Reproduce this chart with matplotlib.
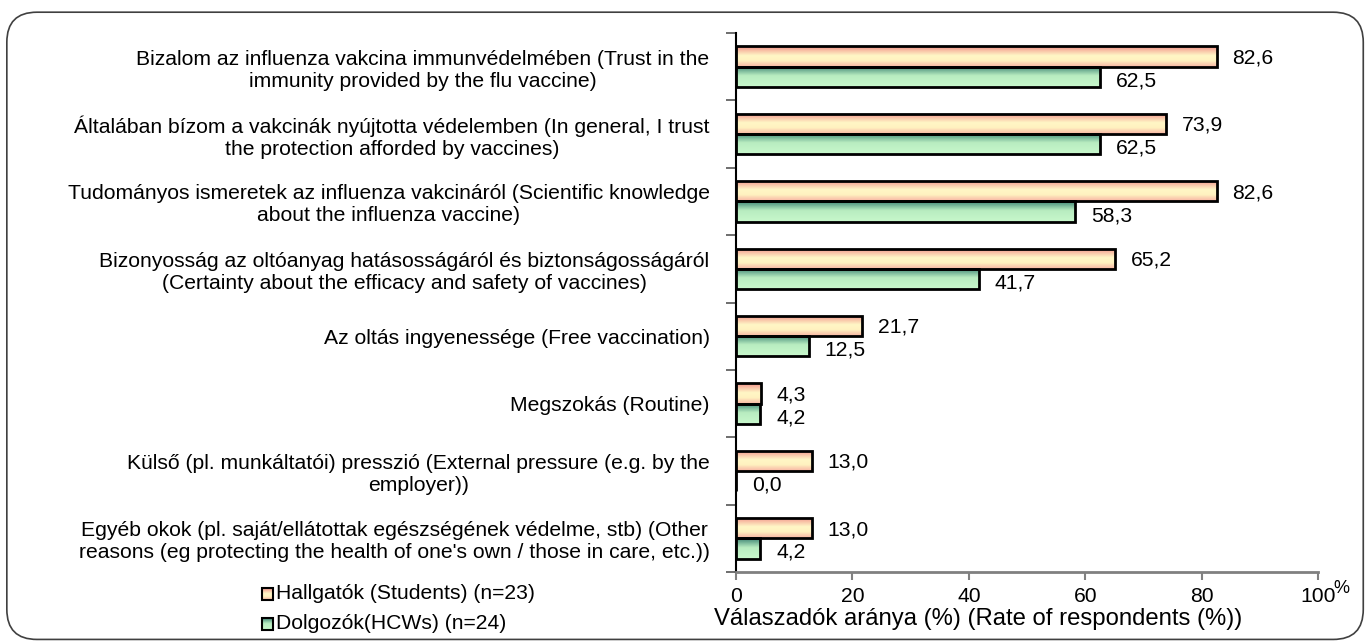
import numpy as np
import matplotlib.pyplot as plt
from matplotlib.colors import LinearSegmentedColormap
from matplotlib.patches import FancyBboxPatch, Rectangle

plt.rcParams['font.family'] = ['Liberation Sans', 'DejaVu Sans']

categories = [
    "Bizalom az influenza vakcina immunvédelmében (Trust in the\nimmunity provided by the flu vaccine)",
    "Általában bízom a vakcinák nyújtotta védelemben (In general, I trust\nthe protection afforded by vaccines)",
    "Tudományos ismeretek az influenza vakcináról (Scientific knowledge\nabout the influenza vaccine)",
    "Bizonyosság az oltóanyag hatásosságáról és biztonságosságáról\n(Certainty about the efficacy and safety of vaccines)",
    "Az oltás ingyenessége (Free vaccination)",
    "Megszokás (Routine)",
    "Külső (pl. munkáltatói) presszió (External pressure (e.g. by the\nemployer))",
    "Egyéb okok (pl. saját/ellátottak egészségének védelme, stb) (Other\nreasons (eg protecting the health of one's own / those in care, etc.))",
]
students = [82.6, 73.9, 82.6, 65.2, 21.7, 4.3, 13.0, 13.0]
hcws = [62.5, 62.5, 58.3, 41.7, 12.5, 4.2, 0.0, 4.2]
legend_labels = ["Hallgatók (Students) (n=23)", "Dolgozók(HCWs) (n=24)"]
xticks = [0, 20, 40, 60, 80, 100]

FS = 15.2

red_cmap = LinearSegmentedColormap.from_list(
    "red", [(0, "#f2928a"), (0.45, "#fff6c6"), (0.7, "#fff2c0"), (1, "#f8b4a4")])
green_cmap = LinearSegmentedColormap.from_list(
    "green", [(0, "#3f8575"), (0.45, "#b8ecc0"), (1, "#c8f8cc")])

fig = plt.figure(figsize=(13.66, 6.42), dpi=100)
ax = fig.add_axes([0.5388, 0.109, 0.4261, 0.8396])

# rounded frame around the whole chart
frame = FancyBboxPatch((0.005, 0.004), 0.993, 0.977, boxstyle="round,pad=0,rounding_size=0.022",
                       transform=fig.transFigure, fill=False, edgecolor="#404040", lw=1.2,
                       mutation_aspect=1366 / 642)
fig.patches.append(frame)

y = np.arange(len(categories))
h = 0.3
grad = np.linspace(0, 1, 64).reshape(-1, 1)


def gradient_bars(bars, cmap):
    for b in bars:
        x0, y0, w, hh = b.get_x(), b.get_y(), b.get_width(), b.get_height()
        if w <= 0:
            continue
        im = ax.imshow(grad, cmap=cmap, aspect="auto", extent=(x0, x0 + w, y0 + hh, y0),
                       origin="upper", zorder=1, interpolation="bilinear")
        im.set_clip_path(b)


b1 = ax.barh(y - h / 2, students, height=h, facecolor="none", edgecolor="black", lw=2, zorder=2)
b2 = ax.barh(y + h / 2, hcws, height=h, facecolor="none", edgecolor="black", lw=2, zorder=2)
gradient_bars(b1, red_cmap)
gradient_bars(b2, green_cmap)

for i in range(len(categories)):
    ax.text(students[i] + 2.7, y[i] - h / 2 + 0.02, f"{students[i]:.1f}".replace(".", ","),
            va="center", ha="left", fontsize=FS)
    ax.text(hcws[i] + 2.7, y[i] + h / 2 + 0.06, f"{hcws[i]:.1f}".replace(".", ","),
            va="center", ha="left", fontsize=FS)

ax.set_xlim(0, 100)
ax.set_ylim(len(categories) - 0.5, -0.5)
ax.set_xticks(xticks)
ax.set_xticklabels([str(t) for t in xticks], fontsize=FS)
ax.annotate("%", xy=(1, 0), xycoords="axes fraction", xytext=(15, -16),
            textcoords="offset pixels", fontsize=13, ha="left", va="center")
ax.set_yticks(y)
ax.set_yticklabels(categories, fontsize=FS, multialignment="center")
ax.tick_params(axis="y", length=0, pad=19)
ax.set_yticks(np.arange(-0.5, len(categories), 1), minor=True)
ax.tick_params(axis="y", which="minor", length=7, width=1.2, color="#555555")
ax.tick_params(axis="x", length=6, width=1.5, color="#808080", pad=5)

for s in ["top", "right"]:
    ax.spines[s].set_visible(False)
ax.spines["left"].set_linewidth(1.5)
ax.spines["bottom"].set_color("#808080")
ax.spines["bottom"].set_linewidth(2)

ax.set_xlabel("Válaszadók aránya (%) (Rate of respondents (%))", fontsize=17.2, labelpad=0)
ax.xaxis.set_label_coords(0.416, -0.067)

# legend
for k, (lab, cmap) in enumerate(zip(legend_labels, [red_cmap, green_cmap])):
    ly = 0.0748 - k * 0.0467
    lx = 0.1915
    sw, sh = 0.0085, 0.018
    rect = Rectangle((lx, ly - sh / 2), sw, sh, transform=fig.transFigure,
                     facecolor="none", edgecolor="black", lw=1.5, zorder=3)
    fig.patches.append(rect)
    axl = fig.add_axes([lx, ly - sh / 2, sw, sh])
    axl.imshow(grad, cmap=cmap, aspect="auto", interpolation="bilinear")
    axl.axis("off")
    fig.text(lx + sw + 0.002, ly, lab, fontsize=FS, va="center", ha="left")

fig.savefig("out.png", dpi=100)
